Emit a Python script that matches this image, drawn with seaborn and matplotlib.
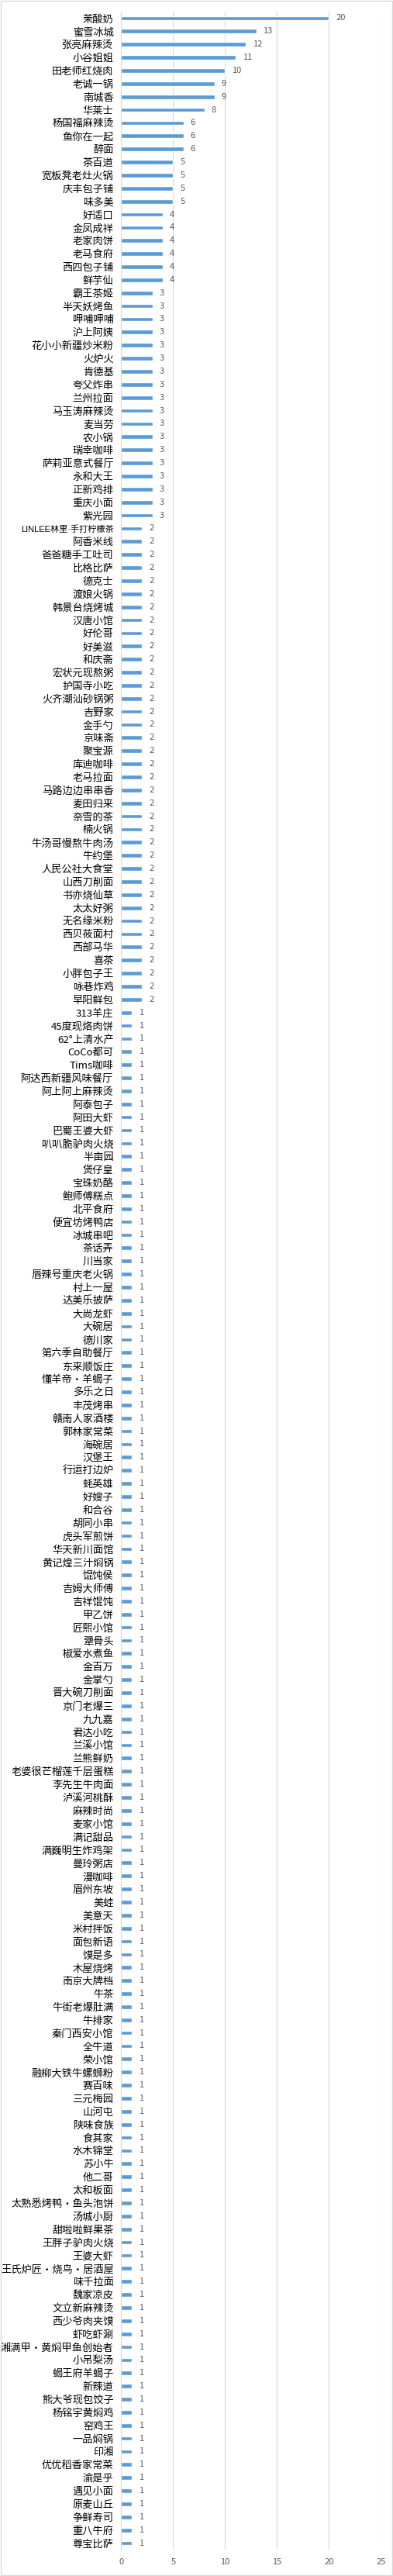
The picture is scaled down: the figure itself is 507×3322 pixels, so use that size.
import matplotlib
matplotlib.use("Agg")
import matplotlib.pyplot as plt
from matplotlib.patches import Rectangle
import seaborn as sns
import pandas as pd

# shop names, top to bottom
names = [
    "茉酸奶", "蜜雪冰城", "张亮麻辣烫", "小谷姐姐", "田老师红烧肉", "老诚一锅", "南城香", "华莱士",
    "杨国福麻辣烫", "鱼你在一起", "醉面", "茶百道", "宽板凳老灶火锅", "庆丰包子铺", "味多美",
    "好适口", "金凤成祥", "老家肉饼", "老马食府", "西四包子铺", "鲜芋仙",
    "霸王茶姬", "半天妖烤鱼", "呷哺呷哺", "沪上阿姨", "花小小新疆炒米粉", "火炉火", "肯德基",
    "夸父炸串", "兰州拉面", "马玉涛麻辣烫", "麦当劳", "农小锅", "瑞幸咖啡", "萨莉亚意式餐厅",
    "永和大王", "正新鸡排", "重庆小面", "紫光园",
    "LINLEE林里·手打柠檬茶", "阿香米线", "爸爸糖手工吐司", "比格比萨", "德克士", "渡娘火锅",
    "韩景台烧烤城", "汉唐小馆", "好伦哥", "好美滋", "和庆斋", "宏状元现熬粥", "护国寺小吃",
    "火齐潮汕砂锅粥", "吉野家", "金手勺", "京味斋", "聚宝源", "库迪咖啡", "老马拉面",
    "马路边边串串香", "麦田归来", "奈雪的茶", "楠火锅", "牛汤哥慢熬牛肉汤", "牛约堡",
    "人民公社大食堂", "山西刀削面", "书亦烧仙草", "太太好粥", "无名缘米粉", "西贝莜面村",
    "西部马华", "喜茶", "小胖包子王", "咏巷炸鸡", "早阳鲜包",
    "313羊庄", "45度现烙肉饼", "62°上清水产", "CoCo都可", "Tims咖啡", "阿达西新疆风味餐厅",
    "阿上阿上麻辣烫", "阿泰包子", "阿田大虾", "巴蜀王婆大虾", "叭叭脆驴肉火烧", "半亩园",
    "煲仔皇", "宝珠奶酪", "鲍师傅糕点", "北平食府", "便宜坊烤鸭店", "冰城串吧", "茶话弄",
    "川当家", "唇辣号重庆老火锅", "村上一屋", "达美乐披萨", "大尚龙虾", "大碗居", "德川家",
    "第六季自助餐厅", "东来顺饭庄", "懂羊帝·羊蝎子", "多乐之日", "丰茂烤串", "赣南人家酒楼",
    "郭林家常菜", "海碗居", "汉堡王", "行运打边炉", "蚝英雄", "好嫂子", "和合谷", "胡同小串",
    "虎头军煎饼", "华天新川面馆", "黄记煌三汁焖锅", "馄饨侯", "吉姆大师傅", "吉祥馄饨",
    "甲乙饼", "匠熙小馆", "犟骨头", "椒爱水煮鱼", "金百万", "金掌勺", "晋大碗刀削面",
    "京门老爆三", "九九嘉", "君达小吃", "兰溪小馆", "兰熊鲜奶", "老婆很芒榴莲千层蛋糕",
    "李先生牛肉面", "泸溪河桃酥", "麻辣时尚", "麦家小馆", "满记甜品", "满巍明生炸鸡架",
    "曼玲粥店", "漫咖啡", "眉州东坡", "美蛙", "美意天", "米村拌饭", "面包新语", "馍是多",
    "木屋烧烤", "南京大牌档", "牛茶", "牛街老爆肚满", "牛排家", "秦门西安小馆", "全牛道",
    "荣小馆", "融柳大铁牛螺蛳粉", "赛百味", "三元梅园", "山河屯", "陕味食族", "食其家",
    "水木锦堂", "苏小牛", "他二哥", "太和板面", "太熟悉烤鸭·鱼头泡饼", "汤城小厨",
    "甜啦啦鲜果茶", "王胖子驴肉火烧", "王婆大虾", "王氏炉匠·烧鸟·居酒屋", "味千拉面",
    "魏家凉皮", "文立新麻辣烫", "西少爷肉夹馍", "虾吃虾涮", "湘满甲·黄焖甲鱼创始者",
    "小吊梨汤", "蝎王府羊蝎子", "新辣道", "熊大爷现包饺子", "杨铭宇黄焖鸡", "窑鸡王",
    "一品焖锅", "印湘", "优优稻香家常菜", "渝是乎", "遇见小面", "原麦山丘", "争鲜寿司",
    "重八牛府", "尊宝比萨",
]

# counts per shop (grouped runs as in the chart)
top_counts = [20, 13, 12, 11, 10, 9, 9, 8, 6, 6, 6, 5, 5, 5, 5, 4, 4, 4, 4, 4, 4]
n_three = 18
n_two = 37
counts = top_counts + [3] * n_three + [2] * n_two
counts = counts + [1] * (len(names) - len(counts))

x_ticks = [0, 5, 10, 15, 20, 25]

df = pd.DataFrame({"name": names, "count": counts})

sns.set_theme(style="white")
plt.rcParams["font.family"] = ["Noto Sans CJK SC", "DejaVu Sans"]

fig = plt.figure(figsize=(5.07, 33.22), dpi=100)
ax = fig.add_axes([0.3083, 0.01023, 0.6608, 0.98525])

sns.barplot(data=df, x="count", y="name", orient="h", color="#5B9BD5",
            saturation=1, width=0.34, ax=ax)

# value labels at the bar ends
for c in ax.containers:
    ax.bar_label(c, padding=6.5, fontsize=8, color="#595959")

ax.set_xlim(0, 25)
ax.set_xticks(x_ticks)
ax.set_xlabel("")
ax.set_ylabel("")
ax.grid(axis="x", color="#D9D9D9", linewidth=0.8)
ax.set_axisbelow(True)
for s in ["top", "right", "bottom"]:
    ax.spines[s].set_visible(False)
ax.spines["left"].set_color("#D9D9D9")
ax.spines["left"].set_linewidth(0.8)

ax.tick_params(axis="y", length=0, pad=7, labelsize=9.5, labelcolor="black")
ax.tick_params(axis="x", length=0, pad=8, labelsize=8, labelcolor="#595959")

# the one long mixed label: narrower latin font and smaller size so it fits
for t in ax.get_yticklabels():
    if t.get_text().startswith("LINLEE"):
        t.set_family(["Liberation Sans", "Noto Sans CJK SC"])
        t.set_fontsize(8)

# chart-area border
fig.patches.append(Rectangle((0.001, 0.0002), 0.997, 0.9995, transform=fig.transFigure,
                             fill=False, edgecolor="#D9D9D9", linewidth=1))

fig.savefig("out.png", dpi=100, facecolor="white")
